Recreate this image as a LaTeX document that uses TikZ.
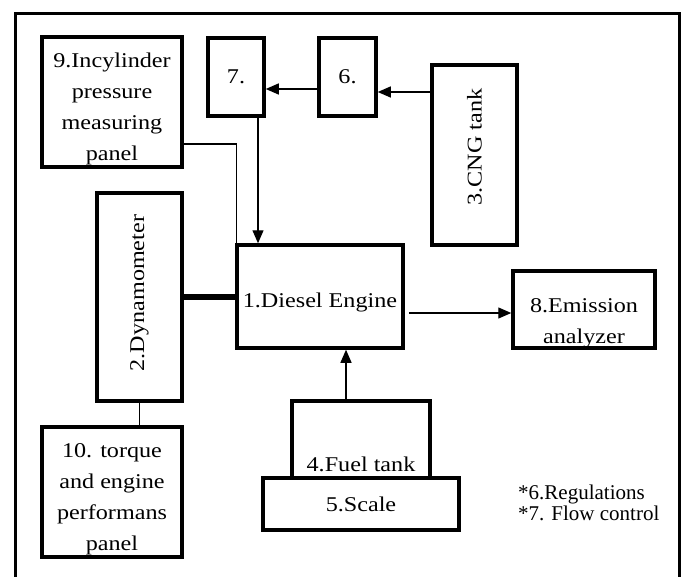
\documentclass[tikz,border=0pt]{standalone}
\usepackage{fontspec}
\setmainfont{Liberation Serif}
\newfontfamily\boxfont[FakeStretch=1.15]{Liberation Serif}
\usetikzlibrary{arrows.meta,calc}

\begin{document}
\begin{tikzpicture}[x=1pt, y=-1pt, every node/.style={font=\boxfont\fontsize{21}{31}\selectfont}]
\tikzset{box/.style={draw, line width=3.5pt, inner sep=0pt, align=center}}
\tikzset{txt/.style={align=center, inner sep=0pt}}
\tikzset{arrow/.style={-{Triangle[length=13pt,width=11pt]}, line width=1.3pt}}
\tikzset{link/.style={line width=1.3pt}}
\tikzset{shaft/.style={line width=6pt}}
\useasboundingbox (0,0) rectangle (684,577);
\draw[line width=3pt] (15,14) rectangle (679,620);

\node[box, minimum width=166pt, minimum height=103pt] (eng) at (320,296.5) {};
\node[txt] (eng-t) at ([yshift=-6pt]eng.center) {1.Diesel Engine};
\node[box, minimum width=85pt, minimum height=208pt] (dyno) at (139.5,297) {};
\node[txt] (dyno-t) at ([yshift=4pt]dyno.center) {\rotatebox{90}{2.Dynamometer}};
\node[box, minimum width=85pt, minimum height=180pt] (cng) at (474.5,155) {};
\node[txt] (cng-t) at ([yshift=8pt]cng.center) {\rotatebox{90}{3.CNG tank}};
\node[box, minimum width=138pt, minimum height=77pt] (fuel) at (361,439.5) {};
\node[txt, anchor=base] (fuel-t) at ([yshift=8pt]fuel.south) {4.Fuel tank};
\node[box, minimum width=196pt, minimum height=52pt] (scale) at (361,504) {5.Scale};
\node[box, minimum width=57pt, minimum height=78pt] (reg) at (347.5,77) {6.};
\node[box, minimum width=56pt, minimum height=78pt] (flow) at (236,77) {7.};
\node[box, minimum width=142pt, minimum height=77pt] (emis) at (584,309.5) {};
\node[txt] (emis-t) at ([yshift=-14pt]emis.center) {8.Emission\\analyzer};
\node[box, minimum width=140pt, minimum height=130pt] (press) at (112,102) {};
\node[txt] (press-t) at ([yshift=-6.5pt]press.center) {9.Incylinder\\pressure\\measuring\\panel};
\node[box, minimum width=140pt, minimum height=130pt] (torque) at (112,492) {};
\node[txt] (torque-t) at ([yshift=-7pt]torque.center) {10. torque\\and engine\\performans\\panel};
\node[txt, align=left, anchor=north west, font=\rmfamily\fontsize{21}{21}\selectfont] (notes) at (518,484.5) {*6.Regulations\\*7. Flow control};

\coordinate (gas) at ([yshift=-15pt]reg.east);
\draw[arrow] (gas -| cng.west) -- (gas);
\draw[arrow] ([yshift=-12pt]reg.west) -- ([yshift=-12pt]flow.east);
\coordinate (feed) at ([xshift=22pt]flow.south);
\draw[arrow] (feed) -- (feed |- eng.north);
\draw[link] ([yshift=-42pt]press.east) -| ([xshift=1pt]eng.north west);
\draw[shaft] (dyno.east) -- (dyno.east -| eng.west);
\coordinate (exh) at ([shift={(4,16.5)}]eng.east);
\draw[arrow] (exh) -- (exh -| emis.west);
\coordinate (fuelout) at ([xshift=-15pt]fuel.north);
\draw[arrow] (fuelout) -- (fuelout |- eng.south);
\draw[link] (dyno.south) -- (dyno.south |- torque.north);
\end{tikzpicture}
\end{document}
